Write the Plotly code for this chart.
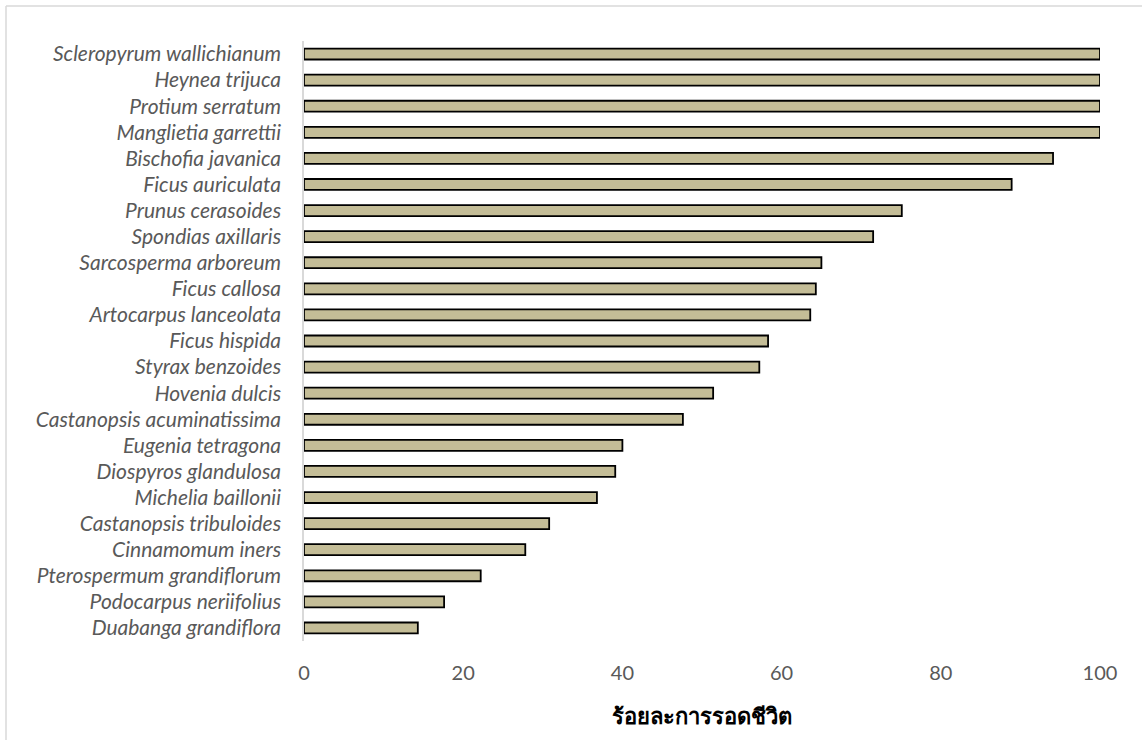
import plotly.graph_objects as go

species = [
    "Scleropyrum wallichianum", "Heynea trijuca", "Protium serratum",
    "Manglietia garrettii", "Bischofia javanica", "Ficus auriculata",
    "Prunus cerasoides", "Spondias axillaris", "Sarcosperma arboreum",
    "Ficus callosa", "Artocarpus lanceolata", "Ficus hispida",
    "Styrax benzoides", "Hovenia dulcis", "Castanopsis acuminatissima",
    "Eugenia tetragona", "Diospyros glandulosa", "Michelia baillonii",
    "Castanopsis tribuloides", "Cinnamomum iners", "Pterospermum grandiflorum",
    "Podocarpus neriifolius", "Duabanga grandiflora",
]
survival = [
    100, 100, 100, 100, 94.1, 88.9, 75.1, 71.5, 65.0, 64.3, 63.6, 58.3,
    57.2, 51.4, 47.6, 40.0, 39.1, 36.8, 30.8, 27.8, 22.2, 17.6, 14.3,
]
x_ticks = [0, 20, 40, 60, 80, 100]
x_title = "ร้อยละการรอดชีวิต"

fig = go.Figure(go.Bar(
    y=species,
    x=survival,
    orientation="h",
    marker=dict(color="#C4BD97", line=dict(color="#000000", width=1.8)),
    hoverinfo="x+y",
))

W, H = 1142, 740
ml, mr, mt, mb = 304, 42, 41, 99
pw, ph = W - ml - mr, H - mt - mb

fig.update_layout(
    width=W, height=H,
    margin=dict(l=ml, r=mr, t=mt, b=mb, autoexpand=False),
    paper_bgcolor="white", plot_bgcolor="white",
    bargap=0.58,
    showlegend=False,
    font=dict(family="Lato, 'Noto Sans', 'DejaVu Sans', sans-serif", color="#595959"),
    xaxis=dict(
        range=[0, 100], tickvals=x_ticks, ticktext=[str(t) for t in x_ticks],
        showgrid=False, zeroline=False, showline=False, ticks="",
        tickfont=dict(size=20, color="#595959"),
        ticklabelstandoff=18,
        title=dict(text="<b>" + x_title + "</b>", font=dict(size=22, color="#000000",
                   family="'Noto Sans', 'DejaVu Sans', sans-serif"), standoff=25),
        fixedrange=True,
    ),
    yaxis=dict(
        categoryorder="array", categoryarray=species[::-1],
        showgrid=False, zeroline=False,
        showline=True, linecolor="#D9D9D9", linewidth=1.5,
        ticks="", ticklabelstandoff=17,
        tickfont=dict(size=21, color="#595959"),
        tickvals=species, ticktext=["<i>" + s + "</i>" for s in species],
        fixedrange=True,
    ),
    shapes=[
        dict(type="line", xref="paper", yref="paper",
             x0=(6 - ml) / pw, x1=1.2, y0=(H - mb - 6) / ph, y1=(H - mb - 6) / ph,
             line=dict(color="#D9D9D9", width=1.5)),
        dict(type="line", xref="paper", yref="paper",
             x0=(6 - ml) / pw, x1=(6 - ml) / pw, y0=-0.3, y1=(H - mb - 6) / ph,
             line=dict(color="#D9D9D9", width=1.5)),
    ],
)

fig.write_html(
    "out.html",
    config={"displayModeBar": False},
    post_script="document.body.style.margin='0';document.body.style.overflow='hidden';",
)
